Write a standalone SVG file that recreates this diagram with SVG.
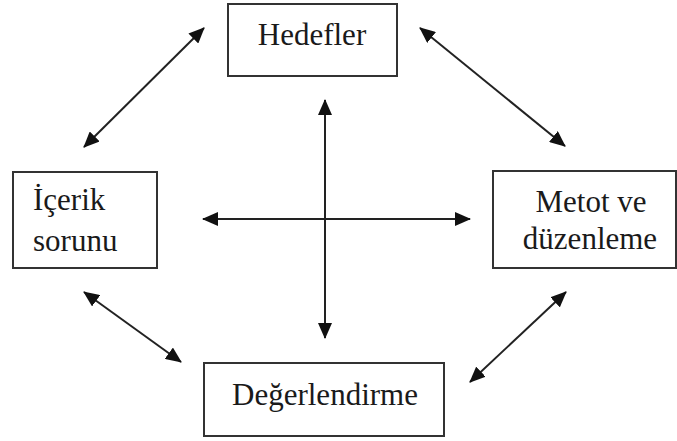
<svg xmlns="http://www.w3.org/2000/svg" width="677" height="441" viewBox="0 0 677 441">
<style>
.box{fill:#fff;stroke:#333;stroke-width:2}
.t{font-family:"Liberation Serif","Times New Roman",serif;font-size:31px;fill:#1a1a1a}
.c{stroke:#222;stroke-width:2;fill:none;marker-start:url(#a);marker-end:url(#a)}
</style>
<defs>
<marker id="a" viewBox="0 0 16 14" refX="15" refY="7" markerWidth="16" markerHeight="14" markerUnits="userSpaceOnUse" orient="auto-start-reverse">
<path d="M0,0 L16,7 L0,14 Z" fill="#111"/>
</marker>
</defs>
<rect width="677" height="441" fill="#fff"/>
<g id="hedefler"><rect class="box" x="228" y="4" width="169" height="72"/><text class="t" x="312" y="45" text-anchor="middle">Hedefler</text></g>
<g id="icerik"><rect class="box" x="13" y="172" width="144" height="96"/><text class="t" x="33" y="210">İçerik</text><text class="t" x="33" y="251">sorunu</text></g>
<g id="metot"><rect class="box" x="493" y="171" width="183" height="97"/><text class="t" x="591" y="212" text-anchor="middle">Metot ve</text><text class="t" x="590" y="249" text-anchor="middle">düzenleme</text></g>
<g id="degerlendirme"><rect class="box" x="204" y="363" width="240" height="73"/><text class="t" x="325" y="405" text-anchor="middle">Değerlendirme</text></g>
<g id="connectors">
<line class="c" x1="84" y1="147" x2="204" y2="28"/>
<line class="c" x1="420" y1="28" x2="565" y2="146"/>
<line class="c" x1="84" y1="292" x2="181" y2="362"/>
<line class="c" x1="470" y1="382" x2="566" y2="292"/>
<line class="c" x1="325" y1="100" x2="325" y2="338"/>
<line class="c" x1="203" y1="219" x2="470" y2="219"/>
</g>
</svg>
